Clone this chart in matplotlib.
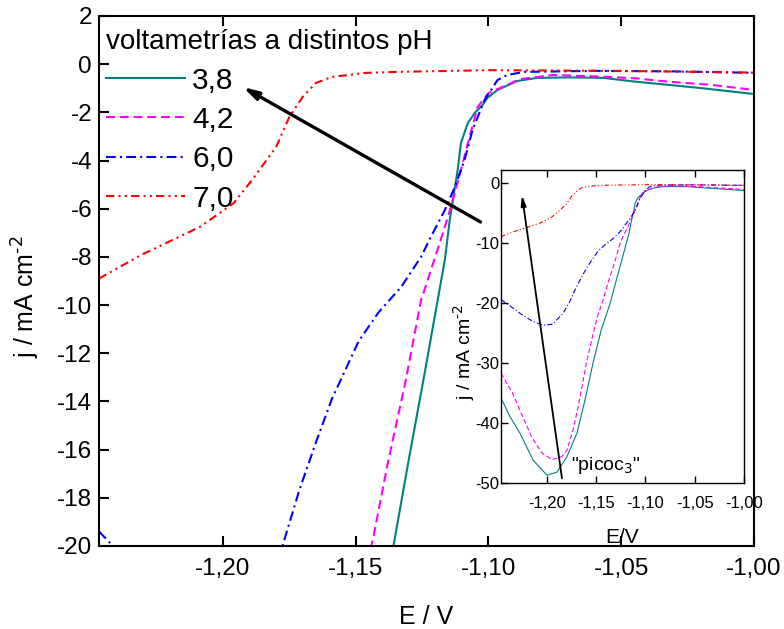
import numpy as np
import matplotlib
matplotlib.use('Agg')
from matplotlib import pyplot as plt
from matplotlib.ticker import FuncFormatter, FixedLocator

plt.rcParams['font.family'] = ['Liberation Sans', 'DejaVu Sans']
plt.rcParams['axes.unicode_minus'] = False

# voltammograms at different pH (E in V, j in mA cm-2)
ph_labels = ['3,8', '4,2', '6,0', '7,0']

e_38 = [-1.2467, -1.2380, -1.2274, -1.2140, -1.2000, -1.1900, -1.1800, -1.1696, -1.1615,
        -1.1533, -1.1450, -1.1358, -1.1300, -1.1240, -1.1164, -1.1146, -1.1134, -1.1116,
        -1.1104, -1.1078, -1.1050, -1.1022, -1.1004, -1.0966, -1.0892, -1.0817, -1.0694,
        -1.0567, -1.0444, -1.0321, -1.0194, -1.0000]
j_38 = [-35.8, -38.8, -41.7, -46.2, -48.7, -48.2, -45.7, -41.7, -36.2,
        -30.0, -24.5, -20.0, -16.4, -12.8, -8.1, -6.47, -5.63, -4.39,
        -3.28, -2.45, -2.0, -1.69, -1.4, -1.07, -0.70, -0.57, -0.55,
        -0.57, -0.73, -0.86, -1.0, -1.24]

e_42 = [-1.2467, -1.2350, -1.2250, -1.2150, -1.2050, -1.1950, -1.1850, -1.1797, -1.1736,
        -1.1680, -1.1594, -1.1493, -1.1433, -1.1380, -1.1313, -1.1254, -1.1180, -1.1153,
        -1.1127, -1.1104, -1.1078, -1.1041, -1.1000, -1.0930, -1.0881, -1.0757, -1.0567,
        -1.0444, -1.0321, -1.0160, -1.0000]
j_42 = [-31.7, -35.0, -38.8, -42.5, -45.0, -46.1, -45.6, -44.5, -41.2,
        -37.0, -29.5, -22.5, -19.6, -16.6, -13.2, -9.8, -7.3, -6.35,
        -5.35, -4.4, -3.3, -1.78, -1.2, -0.86, -0.62, -0.45, -0.52,
        -0.59, -0.73, -0.86, -1.07]

e_60 = [-1.2467, -1.2380, -1.2274, -1.2150, -1.2040, -1.1940, -1.1838, -1.1776, -1.1713,
        -1.1650, -1.1590, -1.1489, -1.1414, -1.1329, -1.1254, -1.1217, -1.1164, -1.1127,
        -1.1090, -1.1060, -1.1015, -1.0966, -1.0930, -1.0866, -1.0600, -1.0300, -1.0000]
j_60 = [-19.4, -20.4, -21.7, -23.0, -23.7, -23.5, -21.7, -20.0, -17.7,
        -15.7, -13.9, -11.5, -10.3, -9.25, -8.0, -7.17, -6.05, -5.1,
        -3.97, -2.73, -1.49, -0.66, -0.45, -0.32, -0.28, -0.30, -0.36]

e_70 = [-1.2467, -1.2310, -1.2200, -1.2086, -1.1960, -1.1890, -1.1800, -1.1750, -1.1700,
        -1.1650, -1.1590, -1.1460, -1.1340, -1.1000, -1.0500, -1.0000]
j_70 = [-8.9, -7.93, -7.35, -6.75, -5.77, -4.8, -3.44, -2.19, -1.36,
        -0.78, -0.53, -0.36, -0.32, -0.25, -0.28, -0.35]

series = [(e_38, j_38), (e_42, j_42), (e_60, j_60), (e_70, j_70)]
colors = ['#008080', '#ff00ff', '#0000ff', '#ff0000']
styles = ['-', (0, (4.3, 2.3)), (0, (4.7, 2, 1, 2)), (0, (4, 2, 1, 2, 1, 2))]

x_ticks = [-1.20, -1.15, -1.10, -1.05, -1.00]
main_yticks = list(range(-20, 3, 2))
inset_yticks = [-50, -40, -30, -20, -10, 0]

comma_fmt = FuncFormatter(lambda v, p: ('%.2f' % v).replace('.', ','))
int_fmt = FuncFormatter(lambda v, p: '%d' % round(v))

fig = plt.figure(figsize=(7.84, 6.29), dpi=100)
ax = fig.add_axes([0.1263, 0.132, 0.8354, 0.8426])

lines = []
for (e, j), c, ls, lab in zip(series, colors, styles, ph_labels):
    ln, = ax.plot(e, j, color=c, linestyle=ls, lw=1.5, label=lab)
    lines.append(ln)

ax.set_xlim(-1.2467, -1.0)
ax.set_ylim(-20, 2)
ax.xaxis.set_major_locator(FixedLocator(x_ticks))
ax.yaxis.set_major_locator(FixedLocator(main_yticks))
ax.xaxis.set_major_formatter(comma_fmt)
ax.yaxis.set_major_formatter(int_fmt)
ax.tick_params(direction='in', length=7, width=1.5, top=True, right=False,
               labelsize=17.5)
ax.tick_params(axis='x', pad=9)
ax.tick_params(axis='y', pad=5)
for s in ax.spines.values():
    s.set_linewidth(1.5)
ax.set_xlabel('E / V', fontsize=18)
ax.set_ylabel(r'j / mA cm$^{\text{-2}}$', fontsize=18)
ax.xaxis.set_label_coords(0.5, -0.112)
ax.yaxis.set_label_coords(-0.087, 0.47)

leg = ax.legend(handles=lines, title='voltametrías a distintos pH', loc='upper left',
                bbox_to_anchor=(0.01, 0.975), frameon=False, fontsize=21.5,
                title_fontsize=20, handlelength=2.65, handletextpad=0.25,
                labelspacing=0.38, borderpad=0, borderaxespad=0, alignment='left')

ax.annotate('', xy=(-1.1925, -0.95), xytext=(-1.1030, -6.55),
            arrowprops=dict(arrowstyle='-|>,head_length=0.9,head_width=0.25',
                            color='black', lw=2.4, shrinkA=0, shrinkB=0))

# inset: full range of the curves
narrow = ['Liberation Sans Narrow', 'Liberation Sans', 'DejaVu Sans']
ins = fig.add_axes([0.639, 0.2321, 0.31, 0.4976])
for (e, j), c, ls in zip(series, colors, styles):
    ins.plot(e, j, color=c, linestyle=ls, lw=0.8)
ins.set_xlim(-1.2467, -1.0)
ins.set_ylim(-50, 2.2)
ins.xaxis.set_major_locator(FixedLocator(x_ticks))
ins.yaxis.set_major_locator(FixedLocator(inset_yticks))
ins.xaxis.set_major_formatter(comma_fmt)
ins.yaxis.set_major_formatter(int_fmt)
ins.tick_params(direction='in', length=5, width=1, top=True, right=False, labelsize=12)
ins.tick_params(axis='x', pad=9)
ins.tick_params(axis='y', pad=1)
for t in ins.get_xticklabels() + ins.get_yticklabels():
    t.set_family(narrow)
for s in ins.spines.values():
    s.set_linewidth(1)
ins.set_xlabel('E/V', fontsize=15, family=narrow)
ins.set_ylabel(r'j / mA cm$^{\text{-2}}$', fontsize=14, family=narrow)
ins.xaxis.set_label_coords(0.5, -0.145)
ins.yaxis.set_label_coords(-0.10, 0.42)

ins.annotate('', xy=(-1.2254, -2.0), xytext=(-1.1848, -49.2),
             arrowprops=dict(arrowstyle='-|>,head_length=0.6,head_width=0.15',
                             color='black', lw=1.3, shrinkA=0, shrinkB=0))
ins.text(-1.1755, -47.0, '"picoc$_3$"', fontsize=14, family=narrow, va='center', ha='left')

fig.savefig('out.png', dpi=100)
